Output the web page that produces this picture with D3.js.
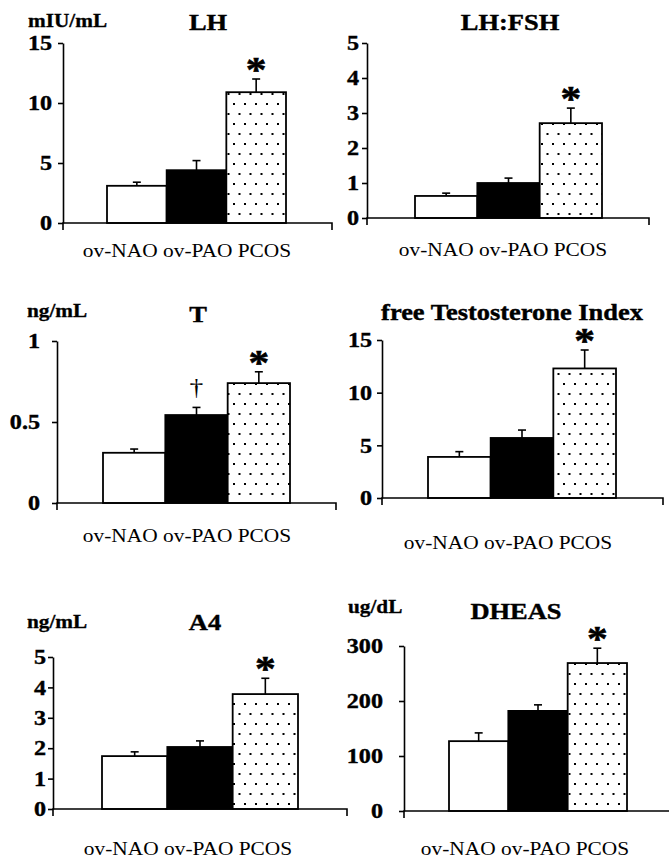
<!DOCTYPE html>
<html>
<head>
<meta charset="utf-8">
<script src="https://cdn.jsdelivr.net/npm/d3@7"></script>
<style>
  body { margin: 0; background: #fff; }
  svg { display: block; font-family: "Liberation Serif", "Times New Roman", serif; }
</style>
</head>
<body>
<svg id="chart" width="669" height="860"></svg>
<script>
// groups and panels
const categories = ["ov-NAO", "ov-PAO", "PCOS"];
const titles = ["LH", "LH:FSH", "T", "free Testosterone Index", "A4", "DHEAS"];
const units = ["mIU/mL", "", "ng/mL", "", "ng/mL", "ug/dL"];
const yMax = [15, 5, 1, 15, 5, 300];
const yTicks = [[0, 5, 10, 15], [0, 1, 2, 3, 4, 5], [0, 0.5, 1], [0, 5, 10, 15], [0, 1, 2, 3, 4, 5], [0, 100, 200, 300]];

// mean and SEM per panel (ov-NAO, ov-PAO, PCOS)
const means = [[3.1, 4.4, 10.9], [0.63, 1.0, 2.71], [0.31, 0.543, 0.74], [3.9, 5.7, 12.3], [1.74, 2.04, 3.78], [127, 182, 269]];
const sems = [[0.3, 0.8, 1.1], [0.08, 0.14, 0.43], [0.023, 0.047, 0.07], [0.5, 0.75, 1.75], [0.14, 0.2, 0.52], [15, 11, 27]];
const marks = [["", "", "*"], ["", "", "*"], ["", "\u2020", "*"], ["", "", "*"], ["", "", "*"], ["", "", "*"]];

// where each panel sits on the page
const layout = [
  {ax: 63, y0: 223, y1: 43, xEnd: 332, b0: 107, b1: 286, pad: 6, tx: 208, ty: 30, ux: 28, uy: 27, cx: 187, cy: 257},
  {ax: 367, y0: 218, y1: 43, xEnd: 649, b0: 415, b1: 602, pad: 3, tx: 510, ty: 30, ux: 0, uy: 0, cx: 503, cy: 256},
  {ax: 57, y0: 503, y1: 341, xEnd: 336, b0: 103, b1: 290, pad: 12, tx: 198, ty: 322, ux: 27, uy: 317, cx: 187, cy: 542},
  {ax: 382, y0: 498, y1: 340, xEnd: 663, b0: 428, b1: 616, pad: 5, tx: 512, ty: 320, ux: 0, uy: 0, cx: 508, cy: 549},
  {ax: 53, y0: 809, y1: 657, xEnd: 347, b0: 102, b1: 298, pad: 2, tx: 205, ty: 630, ux: 27, uy: 628, cx: 188, cy: 855},
  {ax: 404, y0: 811, y1: 646, xEnd: 690, b0: 449, b1: 627, pad: 16, tx: 516, ty: 619, ux: 348, uy: 613, cx: 525, cy: 855}
];

const fills = ["#fff", "#000", "url(#dots)"];
const SX = 1.15; // the scan is a little wider than tall

const svg = d3.select("#chart");

// dotted fill for PCOS
const pat = svg.append("defs").append("pattern")
  .attr("id", "dots")
  .attr("patternUnits", "userSpaceOnUse")
  .attr("width", 11).attr("height", 20);
pat.append("rect").attr("width", 11).attr("height", 20).attr("fill", "#fff");
pat.append("rect").attr("x", 2).attr("y", 3).attr("width", 2).attr("height", 2).attr("fill", "#000");
pat.append("rect").attr("x", 7.5).attr("y", 13).attr("width", 2).attr("height", 2).attr("fill", "#000");

function txt(g, x, y, s, size, weight, anchor) {
  return g.append("text")
    .attr("transform", `translate(${x},${y}) scale(${SX},1)`)
    .attr("text-anchor", anchor)
    .style("font-size", size + "px")
    .style("font-weight", weight)
    .attr("fill", "#000")
    .text(s);
}

titles.forEach((title, i) => {
  const L = layout[i];
  const g = svg.append("g");

  const y = d3.scaleLinear().domain([0, yMax[i]]).range([L.y0, L.y1]);
  const x = d3.scaleBand().domain(categories).range([L.b0, L.b1]).padding(0);

  // y axis
  const yAxis = g.append("g")
    .attr("transform", `translate(${L.ax},0)`)
    .call(d3.axisLeft(y).tickValues(yTicks[i]).tickFormat(d => String(d)).tickSize(5).tickSizeOuter(0).tickPadding(L.pad));
  yAxis.select(".domain").attr("stroke", "#000").attr("stroke-width", 1.6);
  yAxis.selectAll(".tick line").attr("stroke", "#000").attr("stroke-width", 1.6);
  yAxis.selectAll(".tick text")
    .attr("x", -(5 + L.pad) / SX)
    .attr("transform", `scale(${SX},1)`)
    .attr("fill", "#000")
    .attr("stroke", "#000")
    .attr("stroke-width", 0.4)
    .style("font-family", "'Liberation Serif', serif")
    .style("font-size", "21px")
    .style("font-weight", "bold");

  // bars
  g.selectAll("rect.bar")
    .data(means[i])
    .join("rect")
    .attr("class", "bar")
    .attr("x", (d, j) => x(categories[j]))
    .attr("y", d => y(d))
    .attr("width", x.bandwidth())
    .attr("height", d => y(0) - y(d))
    .attr("fill", (d, j) => fills[j])
    .attr("stroke", "#000")
    .attr("stroke-width", 1.8);

  // error bars (upper only)
  means[i].forEach((m, j) => {
    const cxb = x(categories[j]) + x.bandwidth() / 2;
    const top = y(m + sems[i][j]);
    g.append("line")
      .attr("x1", cxb).attr("x2", cxb)
      .attr("y1", y(m)).attr("y2", top)
      .attr("stroke", "#000").attr("stroke-width", 1.6);
    g.append("line")
      .attr("x1", cxb - 4).attr("x2", cxb + 4)
      .attr("y1", top).attr("y2", top)
      .attr("stroke", "#000").attr("stroke-width", 1.6);
    if (marks[i][j] === "*") {
      txt(g, cxb, top + 3, "*", 36, "bold", "middle").attr("stroke", "#000").attr("stroke-width", 0.6);
    } else if (marks[i][j]) {
      txt(g, cxb, top - 12, marks[i][j], 24, "normal", "middle");
    }
  });

  // x axis with end ticks
  g.append("path")
    .attr("d", `M${L.ax},${y(0) + 7}V${y(0)}H${L.xEnd}V${y(0) + 7}`)
    .attr("fill", "none")
    .attr("stroke", "#000")
    .attr("stroke-width", 1.6);

  txt(g, L.tx, L.ty, title, 23, "bold", "middle").attr("stroke", "#000").attr("stroke-width", 0.4);
  if (units[i]) txt(g, L.ux, L.uy, units[i], 18.5, "bold", "start").attr("stroke", "#000").attr("stroke-width", 0.3);
  txt(g, L.cx, L.cy, categories.join(" "), 18.6, "normal", "middle");
});
</script>
</body>
</html>
